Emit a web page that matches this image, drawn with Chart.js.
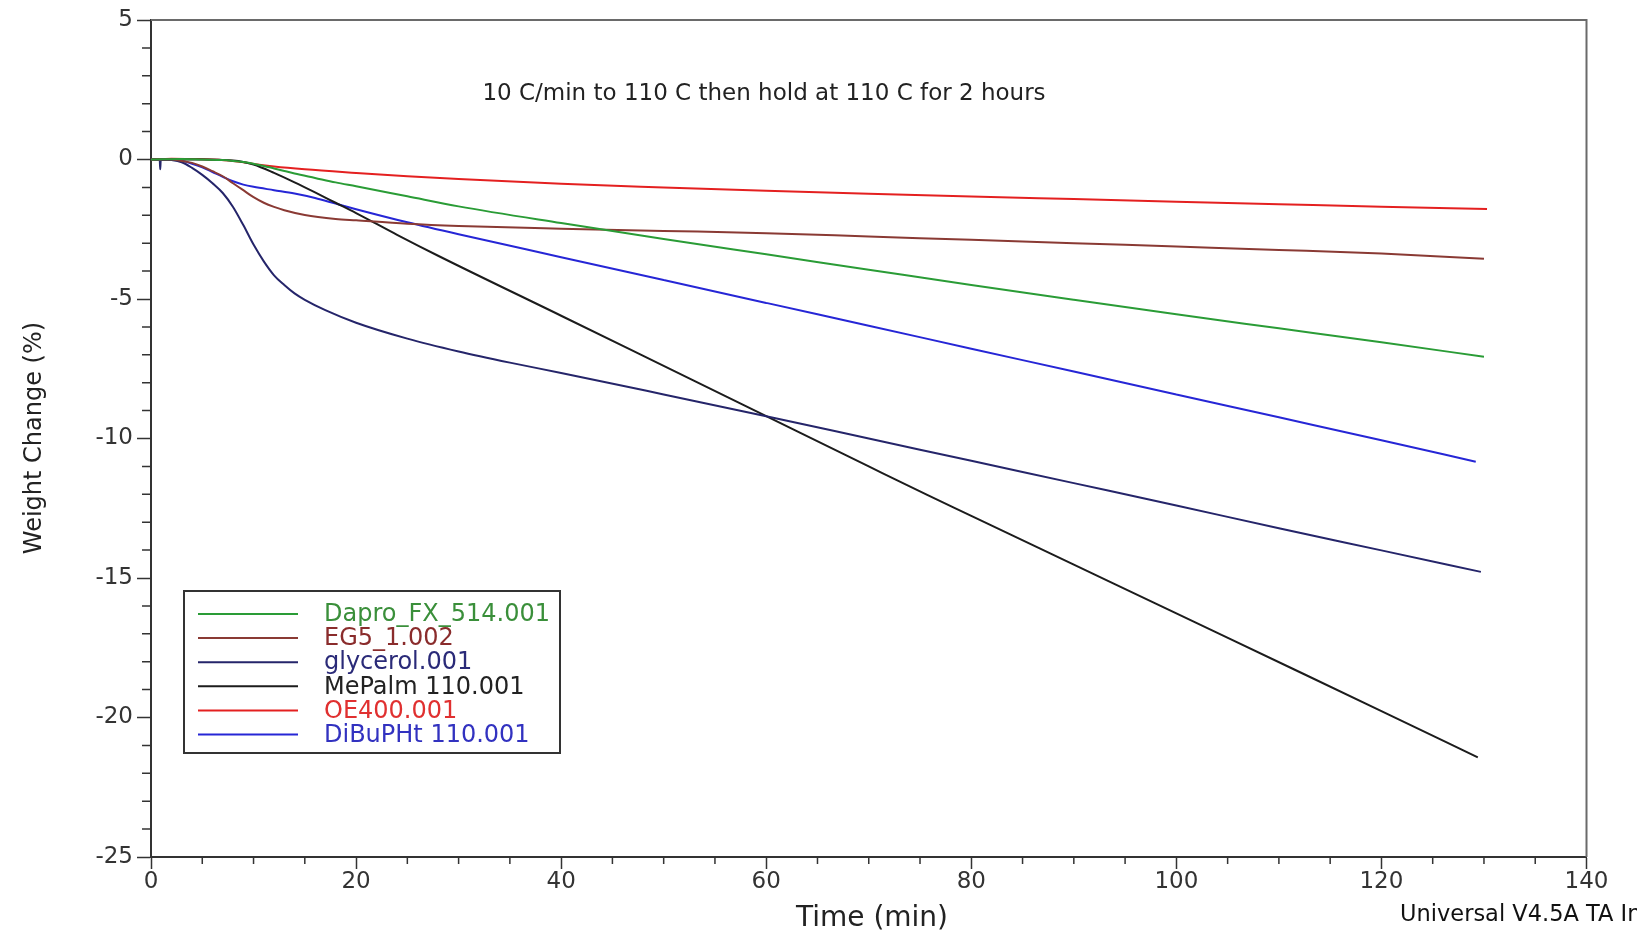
<!DOCTYPE html>
<html><head><meta charset="utf-8">
<script src="https://cdn.jsdelivr.net/npm/chart.js@4.4.1/dist/chart.umd.min.js"></script>
<style>html,body{margin:0;padding:0;background:#fff;overflow:hidden}canvas{display:block}</style>
</head><body>
<canvas id="c" width="1637" height="935"></canvas>
<script>
// ---------- data ----------
const seriesNames = ['Dapro_FX_514.001', 'EG5_1.002', 'glycerol.001', 'MePalm 110.001', 'OE400.001', 'DiBuPHt 110.001'];

const daproTime   = [0, 3, 5, 7, 8, 9, 10, 11, 12, 13, 14, 16, 18, 20, 25, 30, 40, 50, 60, 70, 80, 90, 100, 110, 120, 130];
const daproWeight = [0, 0.02, 0, -0.02, -0.05, -0.09, -0.15, -0.23, -0.32, -0.41, -0.5, -0.66, -0.82, -0.96, -1.32, -1.68, -2.28, -2.85, -3.4, -3.95, -4.5, -5.03, -5.55, -6.05, -6.55, -7.07];

const eg5Time   = [0, 2, 3, 4, 5, 6, 7, 8, 9, 10, 11, 12, 13, 15, 18, 20, 25, 30, 40, 50, 60, 70, 80, 90, 100, 110, 120, 130];
const eg5Weight = [0, 0, -0.05, -0.12, -0.25, -0.42, -0.6, -0.85, -1.1, -1.35, -1.55, -1.7, -1.82, -1.99, -2.13, -2.18, -2.3, -2.38, -2.48, -2.56, -2.64, -2.76, -2.88, -3.0, -3.12, -3.24, -3.37, -3.56];

const glycerolTime   = [0, 0.85, 0.9, 0.95, 1, 2, 3, 4, 5, 6, 7, 8, 9, 10, 11, 12, 13, 14, 15, 17, 20, 25, 30, 35, 40, 50, 60, 70, 80, 90, 100, 110, 120, 129.7];
const glycerolWeight = [0, -0.02, -0.35, -0.02, 0, -0.02, -0.1, -0.3, -0.55, -0.85, -1.2, -1.7, -2.35, -3.05, -3.65, -4.15, -4.5, -4.8, -5.03, -5.4, -5.85, -6.42, -6.88, -7.28, -7.65, -8.42, -9.2, -10.0, -10.8, -11.6, -12.4, -13.22, -14.01, -14.78];

const mepalmTime   = [0, 5, 8, 9, 10, 12, 14, 16, 18, 20, 24, 28, 40, 50, 60, 70, 75.7, 80, 90, 100, 111.5, 120, 129.4];
const mepalmWeight = [0, 0, -0.04, -0.09, -0.18, -0.48, -0.82, -1.18, -1.55, -1.92, -2.7, -3.45, -5.6, -7.4, -9.2, -11.0, -12.02, -12.77, -14.52, -16.27, -18.28, -19.77, -21.43];

const oe400Time   = [0, 2, 4, 6, 8, 9, 10, 12, 15, 20, 25, 30, 40, 50, 60, 70, 80, 90, 100, 110, 120, 130.3];
const oe400Weight = [0, 0.03, 0.02, 0, -0.05, -0.1, -0.16, -0.25, -0.35, -0.48, -0.6, -0.7, -0.87, -1.0, -1.12, -1.23, -1.33, -1.42, -1.51, -1.6, -1.69, -1.77];

const dibuTime   = [0, 2, 3, 4, 5, 6, 7, 8, 9, 10, 12, 14, 16, 18, 20, 25, 30, 40, 50, 60, 70, 80, 90, 100, 110, 120, 129.2];
const dibuWeight = [0, 0, -0.05, -0.15, -0.28, -0.45, -0.62, -0.78, -0.9, -0.98, -1.1, -1.22, -1.38, -1.58, -1.78, -2.25, -2.68, -3.5, -4.32, -5.14, -5.96, -6.78, -7.6, -8.42, -9.24, -10.06, -10.83];

const xTickValues = [0, 20, 40, 60, 80, 100, 120, 140];
const yTickValues = [5, 0, -5, -10, -15, -20, -25];
const xMinorStep = 5;
const yMinorStep = 1;

const titleText  = '10 C/min to 110 C then hold at 110 C for 2 hours';
const xTitle     = 'Time (min)';
const yTitle     = 'Weight Change (%)';
const footerText = 'Universal V4.5A TA Instruments';

// ---------- styles ----------
const lineColors = ['#2a9c36', '#8a3a34', '#25256a', '#1c1c1c', '#e42020', '#2626d6'];
const textColors = ['#3a8f3a', '#8a2c2c', '#2a2a78', '#222222', '#e03030', '#3232c0'];
const FONT = 'DejaVu Sans';

const pairs = (t, w) => t.map((v, i) => ({ x: v, y: w[i] }));
const seriesData = [
  pairs(daproTime, daproWeight),
  pairs(eg5Time, eg5Weight),
  pairs(glycerolTime, glycerolWeight),
  pairs(mepalmTime, mepalmWeight),
  pairs(oe400Time, oe400Weight),
  pairs(dibuTime, dibuWeight)
];

const deco = {
  id: 'deco',
  afterDraw(chart) {
    const { ctx, chartArea: a, scales: { x, y } } = chart;
    ctx.save();
    // frame (top, right)
    ctx.strokeStyle = '#6a6a6a';
    ctx.lineWidth = 2;
    ctx.beginPath();
    ctx.moveTo(a.left, a.top);
    ctx.lineTo(a.right, a.top);
    ctx.lineTo(a.right, a.bottom);
    ctx.stroke();
    // minor ticks
    ctx.strokeStyle = '#333';
    ctx.lineWidth = 1.5;
    ctx.beginPath();
    for (let v = y.min; v <= y.max; v += yMinorStep) {
      if (v % 5 === 0) continue;
      const py = y.getPixelForValue(v);
      ctx.moveTo(a.left - 9, py); ctx.lineTo(a.left, py);
    }
    for (let t = x.min; t <= x.max; t += xMinorStep) {
      if (t % 20 === 0) continue;
      const px = x.getPixelForValue(t);
      ctx.moveTo(px, a.bottom); ctx.lineTo(px, a.bottom + 7);
    }
    ctx.stroke();

    // title
    ctx.fillStyle = '#222';
    ctx.textAlign = 'center';
    ctx.textBaseline = 'middle';
    ctx.font = '23px "' + FONT + '"';
    ctx.fillText(titleText, 764, 94);

    // axis titles
    ctx.font = '28px "' + FONT + '"';
    ctx.fillText(xTitle, 872, 919);
    ctx.save();
    ctx.translate(35, 438);
    ctx.rotate(-Math.PI / 2);
    ctx.font = '24px "' + FONT + '"';
    ctx.fillText(yTitle, 0, 0);
    ctx.restore();

    // footer
    ctx.textAlign = 'left';
    ctx.font = '22.5px "' + FONT + '"';
    ctx.fillStyle = '#111';
    ctx.fillText(footerText, 1400, 915);

    // legend
    const bx = 184, by = 591, bw = 376, bh = 162;
    ctx.fillStyle = '#fff';
    ctx.fillRect(bx, by, bw, bh);
    ctx.strokeStyle = '#333';
    ctx.lineWidth = 2;
    ctx.strokeRect(bx, by, bw, bh);
    ctx.font = '24px "' + FONT + '"';
    chart.data.datasets.forEach((ds, i) => {
      const ly = 614 + i * 24.1;
      ctx.strokeStyle = ds.borderColor;
      ctx.lineWidth = 2;
      ctx.beginPath();
      ctx.moveTo(198, ly); ctx.lineTo(298, ly);
      ctx.stroke();
      ctx.fillStyle = textColors[i];
      ctx.fillText(ds.label, 324, ly + 1);
    });
    ctx.restore();
  }
};

new Chart(document.getElementById('c'), {
  type: 'line',
  data: {
    datasets: seriesNames.map((name, i) => ({
      label: name,
      data: seriesData[i],
      borderColor: lineColors[i],
      borderWidth: 2,
      pointRadius: 0,
      fill: false,
      cubicInterpolationMode: 'monotone'
    }))
  },
  options: {
    responsive: false,
    animation: false,
    events: [],
    layout: { padding: { left: 0, right: 50.5, top: 20, bottom: 0 } },
    plugins: { legend: { display: false }, tooltip: { enabled: false }, title: { display: false } },
    scales: {
      x: {
        type: 'linear',
        min: 0, max: 140,
        afterBuildTicks: s => { s.ticks = xTickValues.map(v => ({ value: v })); },
        afterFit: s => { s.height = 78; s.paddingLeft = 0; s.paddingRight = 0; },
        ticks: { color: '#333', font: { family: FONT, size: 23 }, padding: -1, maxRotation: 0, autoSkip: false },
        grid: { drawOnChartArea: false, drawTicks: true, tickLength: 12, tickColor: '#333', tickWidth: 1.5 },
        border: { display: true, color: '#333', width: 2 }
      },
      y: {
        type: 'linear',
        min: -25, max: 5,
        afterBuildTicks: s => { s.ticks = yTickValues.map(v => ({ value: v })); },
        afterFit: s => { s.width = 151; s.paddingTop = 0; s.paddingBottom = 0; },
        ticks: { color: '#333', font: { family: FONT, size: 23 }, padding: 4, autoSkip: false },
        grid: { drawOnChartArea: false, drawTicks: true, tickLength: 14, tickColor: '#333', tickWidth: 1.5 },
        border: { display: true, color: '#333', width: 2 }
      }
    }
  },
  plugins: [deco]
});
</script>
</body></html>
